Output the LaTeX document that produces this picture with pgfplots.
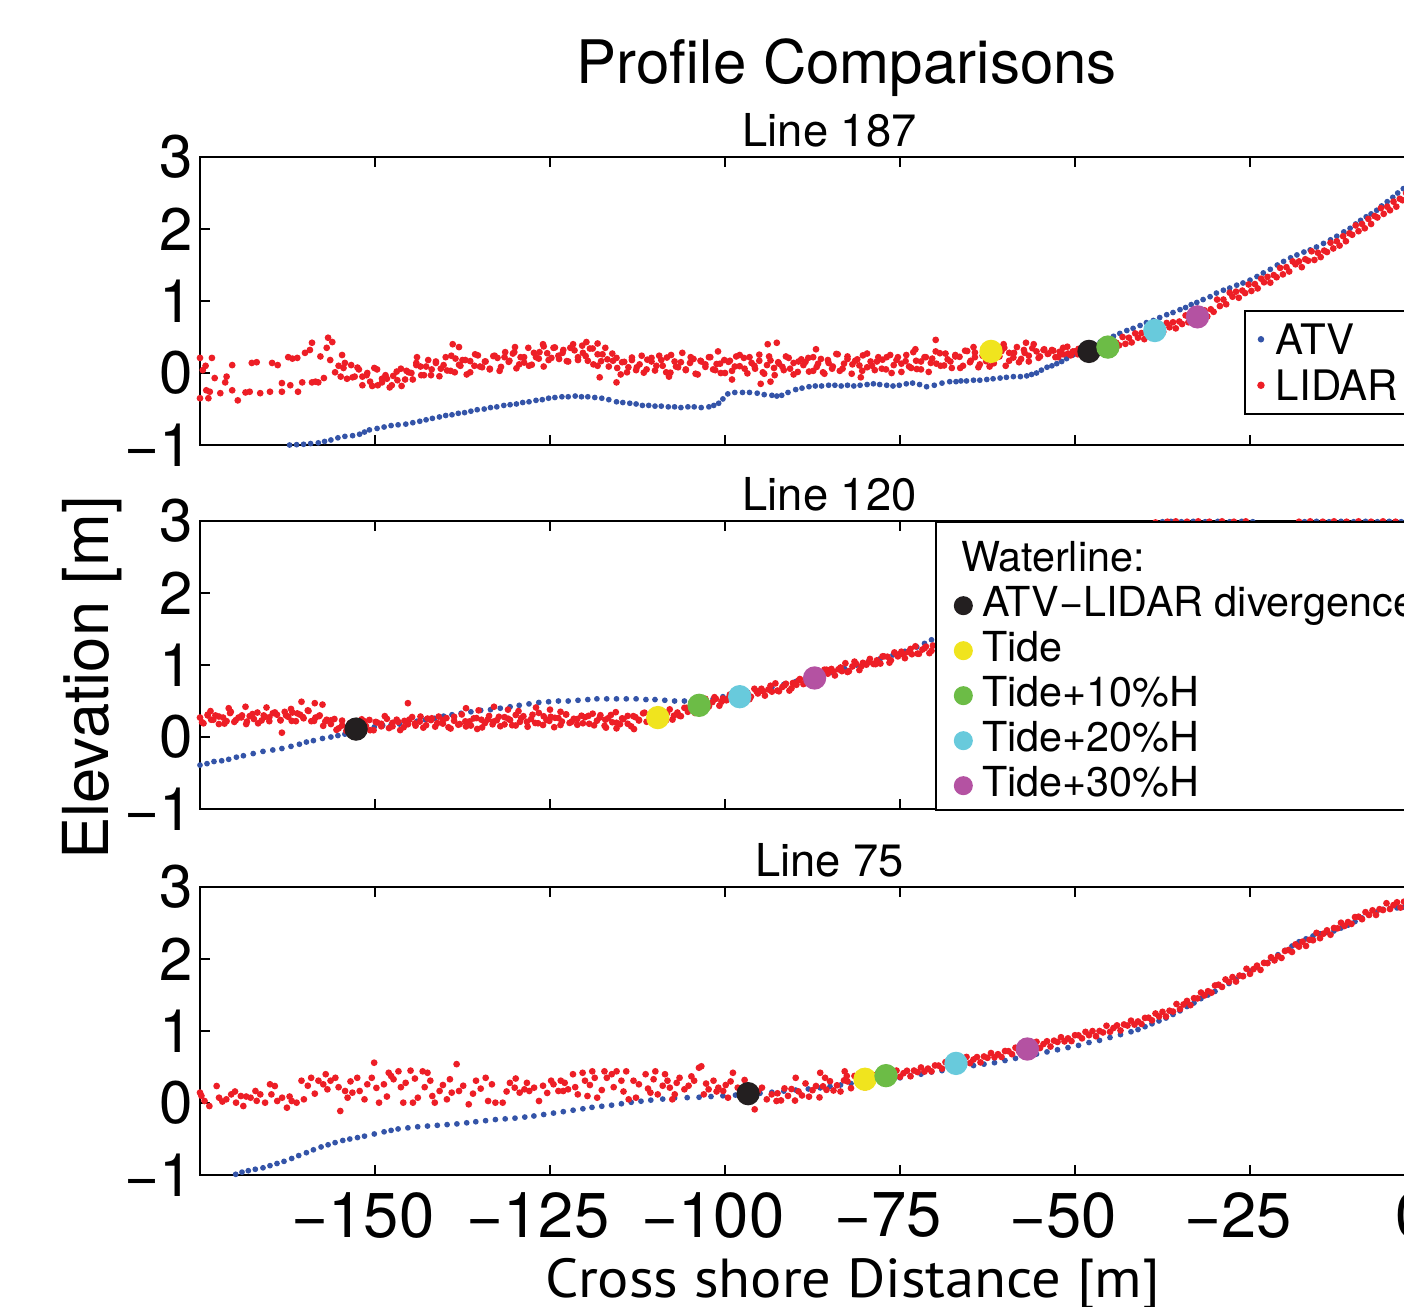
\documentclass[border=0pt]{standalone}
\usepackage{fontspec}
\setmainfont{TeX Gyre Heros}
\newfontfamily\xlabfont{PT Sans}
\usepackage{pgfplots}
\pgfplotsset{compat=1.18}
\definecolor{atvblue}{RGB}{52,84,168}
\definecolor{lidred}{RGB}{237,30,38}
\definecolor{wlblack}{RGB}{35,31,32}
\definecolor{wlyellow}{RGB}{240,228,30}
\definecolor{wlgreen}{RGB}{108,188,70}
\definecolor{wlcyan}{RGB}{104,202,220}
\definecolor{wlmag}{RGB}{180,82,162}
\pgfplotsset{
 every axis title shift=0pt,
 panel/.style={scale only axis, width=367.5pt, height=86.4pt,
  xmin=-175, xmax=0, ymin=-1, ymax=3,
  xtick={-150,-125,-100,-75,-50,-25,0}, ytick={-1,0,1,2,3}, yticklabels={−1,0,1,2,3},
  tick align=inside, major tick length=3pt, tick pos=both,
  axis line style={line width=0.8pt, black}, every tick/.append style={line width=0.8pt, black},
  tick label style={font=\fontsize{18}{18}\selectfont, inner sep=0pt},
  yticklabel style={xshift=-1.8pt},
  xticklabel style={yshift=-5pt, xshift=-3.6pt, font=\fontsize{19}{19}\selectfont},
  title style={font=\fontsize{13.6}{13.6}\selectfont, at={(axis description cs:0.514,1.038)}, anchor=base, inner sep=0pt},
  legend cell align=left},
 atv/.style={only marks, mark=*, mark size=0.65pt, color=atvblue,
  legend image code/.code={\path[draw=none,fill=none] (0pt,0pt) rectangle (3.5pt,1pt); \draw[##1] plot coordinates {(2pt,4.5pt)};}},
 lid/.style={only marks, mark=*, mark size=0.8pt, color=lidred,
  legend image code/.code={\path[draw=none,fill=none] (0pt,0pt) rectangle (3.5pt,1pt); \draw[##1] plot coordinates {(2pt,4.5pt)};}},
 wl/.style={only marks, mark=*, mark size=3.3pt, color=#1,
  legend image code/.code={\path[draw=none,fill=none] (0pt,0pt) rectangle (7pt,1pt); \draw[##1,mark size=2.55pt] plot coordinates {(2.6pt,3.3pt)};}},
}
\begin{document}
\begin{tikzpicture}
\useasboundingbox (0,0) rectangle (421.2pt,-391.8pt);
\node[anchor=base, inner sep=0pt, font=\fontsize{18}{18}\selectfont] at (254pt,-25pt) {Profile Comparisons};
% ---------------- Panel 1 ----------------
\begin{axis}[panel, at={(60pt,-133.5pt)}, anchor=south west, title={Line 187}, xticklabel=\empty,
  legend style={at={(axis description cs:0.8525,0.469)}, anchor=north west, draw=black, line width=0.6pt, fill=white,
   inner xsep=2.7pt, inner ysep=1.7pt, column sep=3pt, row sep=0pt, font=\fontsize{12.6}{12.6}\selectfont,
   cells={anchor=base west}, nodes={inner sep=0pt, text height=11.3pt, text depth=2.5pt}}]
\addplot[atv] coordinates {
(-162.2,-1.00) (-161.2,-0.995) (-160.2,-0.99) (-159.2,-0.98) (-158.1,-0.97) (-157.2,-0.95) (-156.3,-0.93) (-155.3,-0.90) (-154.3,-0.88) (-153.2,-0.87) (-152.2,-0.85) (-151.5,-0.82) (-150.8,-0.79) (-149.7,-0.77) (-148.7,-0.75) (-147.7,-0.73) (-146.7,-0.72) (-145.6,-0.71) (-144.6,-0.69) (-143.6,-0.67) (-142.7,-0.65) (-141.8,-0.63) (-140.8,-0.61) (-139.9,-0.59) (-139.0,-0.58) (-138.1,-0.56) (-137.2,-0.55) (-136.3,-0.53) (-135.4,-0.51) (-134.4,-0.50) (-133.5,-0.48) (-132.6,-0.47) (-131.6,-0.45) (-130.7,-0.44) (-129.8,-0.43) (-128.9,-0.41) (-128.0,-0.40) (-127.0,-0.38) (-126.1,-0.37) (-125.2,-0.35) (-124.3,-0.34) (-123.3,-0.33) (-122.4,-0.33) (-121.4,-0.32) (-120.5,-0.33) (-119.6,-0.33) (-118.6,-0.34) (-117.6,-0.35) (-116.6,-0.37) (-115.5,-0.40) (-114.6,-0.41) (-113.6,-0.42) (-112.7,-0.43) (-111.8,-0.45) (-110.9,-0.45) (-110.0,-0.46) (-109.1,-0.46) (-108.1,-0.47) (-107.2,-0.47) (-106.3,-0.48) (-105.3,-0.47) (-104.4,-0.47) (-103.4,-0.48) (-102.3,-0.47) (-101.6,-0.45) (-100.9,-0.42) (-100.3,-0.36) (-99.6,-0.29) (-98.6,-0.27) (-97.5,-0.27) (-96.5,-0.27) (-95.4,-0.28) (-94.4,-0.30) (-93.3,-0.31) (-92.6,-0.32) (-91.9,-0.31) (-91.0,-0.27) (-89.9,-0.23) (-89.0,-0.21) (-88.0,-0.19) (-87.1,-0.18) (-86.2,-0.18) (-85.2,-0.17) (-84.3,-0.17) (-83.4,-0.18) (-82.5,-0.17) (-81.6,-0.18) (-80.7,-0.17) (-79.7,-0.16) (-78.8,-0.15) (-77.9,-0.16) (-76.9,-0.17) (-76.0,-0.18) (-75.1,-0.17) (-74.1,-0.15) (-73.2,-0.14) (-72.2,-0.16) (-71.2,-0.19) (-70.1,-0.17) (-69.0,-0.14) (-67.9,-0.12) (-67.0,-0.12) (-66.3,-0.11) (-65.5,-0.11) (-64.5,-0.10) (-63.6,-0.10) (-62.6,-0.09) (-61.7,-0.08) (-60.7,-0.07) (-59.8,-0.06) (-58.8,-0.05) (-57.8,-0.05) (-56.9,-0.04) (-56.2,-0.02) (-55.5,0.0) (-54.8,0.04) (-54.0,0.08) (-53.3,0.10) (-52.6,0.13) (-51.9,0.16) (-51.2,0.20) (-50.3,0.25) (-49.3,0.30) (-48.4,0.34) (-47.4,0.38) (-46.4,0.43) (-45.5,0.47) (-44.5,0.51) (-43.6,0.55) (-42.6,0.59) (-41.7,0.62) (-40.7,0.66) (-39.8,0.70) (-38.8,0.73) (-37.9,0.77) (-36.9,0.81) (-36.0,0.84) (-35.0,0.88) (-34.2,0.91) (-33.4,0.95) (-32.6,0.98) (-31.7,1.02) (-30.7,1.06) (-29.8,1.11) (-28.8,1.15) (-27.9,1.18) (-26.9,1.22) (-26.0,1.25) (-25.0,1.29) (-24.0,1.34) (-23.1,1.39) (-22.1,1.44) (-21.1,1.50) (-20.2,1.55) (-19.2,1.60) (-18.3,1.64) (-17.3,1.68) (-16.4,1.71) (-15.5,1.75) (-14.5,1.80) (-13.5,1.85) (-12.6,1.90) (-11.6,1.96) (-10.7,2.01) (-9.9,2.07) (-9.2,2.12) (-8.4,2.17) (-7.7,2.21) (-6.9,2.26) (-6.2,2.32) (-5.4,2.38) (-4.6,2.44) (-3.9,2.50) (-3.1,2.56) (-2.3,2.63) (-1.5,2.70) (-0.8,2.77) (0,2.84)
};
\addlegendentry{ATV}
\addplot[lid] coordinates {
(-175,0.21) (-174.6,0.04) (-175,-0.35) (-173.8,-0.35) (-173.3,0.21) (-172.9,-0.07) (-174.1,-0.24) (-172.1,-0.28) (-171.4,-0.13) (-170.4,0.11) (-170.4,-0.24) (-169.6,-0.38) (-167.6,0.14) (-167.9,-0.26) (-166.4,-0.28) (-164.7,0.14) (-165,-0.26) (-163.9,0.11) (-163.3,-0.26) (-163.3,-0.14) (-162.4,0.22) (-162.1,-0.17) (-161.1,0.21) (-161,-0.26) (-160.4,-0.13) (-160,0.28) (-159.3,0.32) (-159,0.42) (-159,-0.13) (-158.1,-0.13) (-157.3,-0.07) (-156.9,0.35) (-156.7,0.49) (-156.1,0.43) (-156.4,0.18) (-155.7,0.01) (-154.7,0.25) (-154.3,0.14) (-174.2,0.1) (-168.5,-0.27) (-166.9,0.15) (-161.8,0.2) (-158.5,-0.12) (-157.8,0.23) (-155.2,0.1) (-154.9,-0.05) (-173.6,-0.26) (-171.2,-0.05)
(-154.5,0.07) (-154.0,-0.08) (-153.4,0.11) (-152.9,-0.05) (-152.3,0.05) (-151.8,-0.17) (-151.2,-0.03) (-150.7,-0.12) (-150.1,0.07) (-149.6,-0.17) (-149.0,-0.08) (-148.5,-0.03) (-147.9,-0.2) (-147.4,-0.04) (-146.8,-0.1) (-146.3,0.06) (-145.7,-0.09) (-145.2,0.01) (-144.6,-0.09) (-144.1,0.11) (-143.5,0.09) (-143.0,-0.03) (-142.4,0.18) (-141.9,0.05) (-141.3,0.16) (-140.8,-0.045) (-140.2,0.11) (-139.7,0.035) (-139.1,0.24) (-138.6,0.01) (-138.0,0.115) (-137.5,0.18) (-136.9,-0.02) (-136.4,0.165) (-135.8,0.1) (-135.3,0.245) (-134.7,0.08) (-134.2,0.16) (-133.6,0.05) (-133.1,0.235)
(-132.5,0.21) (-132.0,0.085) (-131.4,0.29) (-130.9,0.155) (-130.3,0.27) (-129.8,0.065) (-129.2,0.22) (-128.7,0.145) (-128.1,0.35) (-127.6,0.115) (-127.0,0.22) (-126.5,0.29) (-125.9,0.09) (-125.4,0.275) (-124.8,0.21) (-124.3,0.355) (-123.7,0.195) (-123.2,0.28) (-122.6,0.165) (-122.1,0.35)
(-121.5,0.315) (-121.0,0.18) (-120.4,0.38) (-119.9,0.235) (-119.3,0.34) (-118.8,0.12) (-118.2,0.26) (-117.7,0.165) (-117.1,0.35) (-116.6,0.09) (-116.0,0.17) (-115.5,0.21) (-114.9,-0.02) (-114.4,0.155) (-113.8,0.08) (-113.3,0.215) (-112.7,0.04) (-112.2,0.12) (-111.6,0.005) (-111.1,0.185)
(-110.5,0.16) (-110.0,0.035) (-109.4,0.24) (-108.9,0.1) (-108.3,0.215) (-107.8,0.005) (-107.2,0.16) (-106.7,0.08) (-106.1,0.28) (-105.6,0.04) (-105.0,0.14) (-104.5,0.195) (-103.9,-0.02) (-103.4,0.16) (-102.8,0.085) (-102.3,0.22) (-101.7,0.05) (-101.2,0.125) (-100.6,0.0) (-100.1,0.18)
(-99.5,0.155) (-99.0,0.03) (-98.4,0.23) (-97.9,0.095) (-97.3,0.21) (-96.8,-0.005) (-96.2,0.14) (-95.7,0.06) (-95.1,0.255) (-94.6,0.01) (-94.0,0.11) (-93.5,0.175) (-92.9,-0.03) (-92.4,0.15) (-91.8,0.085) (-91.3,0.23) (-90.7,0.06) (-90.2,0.14) (-89.6,0.015) (-89.1,0.19)
(-88.5,0.155) (-88.0,0.02) (-87.4,0.22) (-86.9,0.085) (-86.3,0.195) (-85.8,-0.01) (-85.2,0.14) (-84.7,0.06) (-84.1,0.265) (-83.6,0.03) (-83.0,0.13) (-82.5,0.195) (-81.9,-0.01) (-81.4,0.17) (-80.8,0.105) (-80.3,0.245) (-79.7,0.08) (-79.2,0.16) (-78.6,0.04) (-78.1,0.22)
(-77.5,0.185) (-77.0,0.05) (-76.4,0.25) (-75.9,0.11) (-75.3,0.22) (-74.8,0.015) (-74.2,0.165) (-73.7,0.09) (-73.1,0.29) (-72.6,0.055) (-72.0,0.16) (-71.5,0.22) (-70.9,0.015) (-70.4,0.2) (-69.8,0.13) (-69.3,0.275) (-68.7,0.105) (-68.2,0.19) (-67.6,0.07) (-67.1,0.25)
(-66.5,0.225) (-66.0,0.1) (-65.4,0.305) (-64.9,0.17) (-64.3,0.285) (-63.8,0.08) (-63.2,0.24) (-62.7,0.165) (-62.1,0.37) (-61.6,0.135) (-61.0,0.24) (-60.5,0.305) (-59.9,0.1) (-59.4,0.28) (-58.8,0.215) (-58.3,0.36) (-57.7,0.195) (-57.2,0.28) (-56.6,0.16) (-56.1,0.345)
(-55.5,0.3) (-55.0,0.23) (-54.4,0.33) (-53.9,0.265) (-53.3,0.32) (-52.8,0.22) (-52.2,0.295) (-51.7,0.26) (-51.1,0.365) (-50.6,0.245) (-50.0,0.3) (-49.5,0.335) (-48.9,0.23) (-48.4,0.325) (-47.8,0.295) (-47.3,0.365)
(-138.9,0.4) (-138.0,0.36) (-119.8,0.43) (-118.2,0.41) (-93.9,0.4) (-92.6,0.42) (-69.9,0.46) (-72.8,0.33) (-117.9,-0.06) (-115.5,-0.13) (-94.9,-0.15) (-80.6,-0.06) (-93.5,-0.12) (-108,-0.05) (-64.5,0.36) (-60.2,0.4) (-57,0.42) (-87,0.33) (-101,0.3) (-126,0.4) (-130,0.36) (-144,0.22) (-99,-0.09)
(-46.8,0.355) (-46.4,0.285) (-45.9,0.41) (-45.5,0.35) (-45.0,0.41) (-44.6,0.325) (-44.1,0.42) (-43.7,0.385) (-43.2,0.5) (-42.8,0.405) (-42.3,0.49) (-41.9,0.425) (-41.4,0.55) (-41.0,0.49) (-40.5,0.555) (-40.1,0.47) (-39.6,0.57) (-39.2,0.535) (-38.7,0.65) (-38.3,0.55) (-37.8,0.63) (-37.4,0.57) (-36.9,0.695) (-36.5,0.635) (-36.0,0.705) (-35.6,0.62) (-35.1,0.715) (-34.7,0.68) (-34.2,0.8) (-33.8,0.705) (-33.3,0.79) (-32.9,0.73) (-32.4,0.86) (-32.0,0.8) (-31.5,0.87) (-31.1,0.785) (-30.6,0.885) (-30.2,0.85)
(-29.7,1.02) (-29.3,0.93) (-28.8,1.02) (-28.4,0.955) (-27.9,1.115) (-27.5,1.06) (-27.0,1.13) (-26.6,1.045) (-26.1,1.145) (-25.7,1.11) (-25.2,1.23) (-24.8,1.14) (-24.3,1.235) (-23.9,1.175) (-23.4,1.31) (-23.0,1.26) (-22.5,1.335) (-22.1,1.255) (-21.6,1.36) (-21.2,1.33) (-20.7,1.46) (-20.3,1.37) (-19.8,1.47) (-19.4,1.41) (-18.9,1.55) (-18.5,1.51) (-18.0,1.55) (-17.6,1.47) (-17.1,1.58) (-16.7,1.56) (-16.2,1.69) (-15.8,1.57) (-15.3,1.67) (-14.9,1.61) (-14.4,1.7) (-14.0,1.68) (-13.5,1.81) (-13.1,1.73) (-12.6,1.83) (-12.2,1.77) (-11.7,1.9) (-11.3,1.83) (-10.8,1.94) (-10.4,1.92) (-9.9,2.05) (-9.5,1.97) (-9.0,2.07) (-8.6,2.01) (-8.1,2.14) (-7.7,2.07) (-7.2,2.18) (-6.8,2.16) (-6.3,2.29) (-5.9,2.21) (-5.4,2.31) (-5.0,2.26) (-4.5,2.38) (-4.1,2.31) (-3.6,2.42) (-3.2,2.40) (-2.7,2.5) (-2.3,2.45) (-1.8,2.54) (-1.4,2.51) (-0.9,2.6) (-0.5,2.57) (0,2.66)
};
\addlegendentry{LIDAR}
\addplot[lid, forget plot] coordinates {
(-153.2,-0.06) (-152.5,0.075) (-151.8,-0.05) (-151.1,0.0) (-150.4,-0.18) (-149.7,0.05) (-149.0,-0.13) (-148.3,-0.08) (-147.6,-0.17) (-146.9,0.02) (-146.2,-0.18) (-145.5,0.03) (-144.8,0.0) (-144.1,0.14) (-143.4,-0.03) (-142.7,0.09) (-142.0,-0.03) (-141.3,0.14) (-140.6,0.06) (-139.9,0.22) (-139.2,0.03) (-138.5,0.2) (-137.8,0.1) (-137.1,0.18) (-136.4,0.01) (-135.7,0.26) (-135.0,0.09) (-134.3,0.16) (-133.6,0.06) (-132.9,0.24) (-132.2,0.03) (-131.5,0.22) (-130.8,0.17) (-130.1,0.29) (-129.4,0.12) (-128.7,0.22) (-128.0,0.1) (-127.3,0.28) (-126.6,0.2) (-125.9,0.37) (-125.2,0.18) (-124.5,0.35) (-123.8,0.24) (-123.1,0.32) (-122.4,0.16) (-121.7,0.4) (-121.0,0.22) (-120.3,0.28) (-119.6,0.17) (-118.9,0.34) (-118.2,0.1) (-117.5,0.26) (-116.8,0.19) (-116.1,0.27) (-115.4,0.07) (-114.7,0.15) (-114.0,0.01) (-113.3,0.18) (-112.6,0.08) (-111.9,0.24) (-111.2,0.05) (-110.5,0.21) (-109.8,0.1) (-109.1,0.18) (-108.4,0.01) (-107.7,0.25) (-107.0,0.09) (-106.3,0.15) (-105.6,0.05) (-104.9,0.22) (-104.2,-0.01) (-103.5,0.17) (-102.8,0.12) (-102.1,0.22) (-101.4,0.04) (-100.7,0.13) (-100.0,0.0) (-99.3,0.17) (-98.6,0.09) (-97.9,0.25) (-97.2,0.06) (-96.5,0.22) (-95.8,0.1) (-95.1,0.17) (-94.4,-0.01) (-93.7,0.23) (-93.0,0.07) (-92.3,0.13) (-91.6,0.04) (-90.9,0.21) (-90.2,-0.02) (-89.5,0.16) (-88.8,0.11) (-88.1,0.21) (-87.4,0.03) (-86.7,0.13) (-86.0,0.01) (-85.3,0.18) (-84.6,0.09) (-83.9,0.26) (-83.2,0.06) (-82.5,0.23) (-81.8,0.12) (-81.1,0.19) (-80.4,0.03) (-79.7,0.27) (-79.0,0.1) (-78.3,0.16) (-77.6,0.06) (-76.9,0.22) (-76.2,0.0) (-75.5,0.18) (-74.8,0.13) (-74.1,0.25) (-73.4,0.07) (-72.7,0.17) (-72.0,0.05) (-71.3,0.22) (-70.6,0.14) (-69.9,0.3) (-69.2,0.1) (-68.5,0.27) (-67.8,0.16) (-67.1,0.23) (-66.4,0.07) (-65.7,0.31) (-65.0,0.15) (-64.3,0.22) (-63.6,0.12) (-62.9,0.3) (-62.2,0.09) (-61.5,0.28) (-60.8,0.23) (-60.1,0.35) (-59.4,0.17) (-58.7,0.28) (-58.0,0.15) (-57.3,0.32) (-56.6,0.24) (-55.9,0.4) (-55.2,0.21) (-54.5,0.32) (-53.8,0.27) (-53.1,0.31) (-52.4,0.22) (-51.7,0.35) (-51.0,0.27) (-50.3,0.3) (-49.6,0.26) (-48.9,0.35) (-48.2,0.3) (-47.5,0.34)
};
\addplot[wl=wlyellow, forget plot] coordinates {(-62.0,0.30)};
\addplot[wl=wlblack, forget plot] coordinates {(-48.0,0.30)};
\addplot[wl=wlgreen, forget plot] coordinates {(-45.3,0.36)};
\addplot[wl=wlcyan, forget plot] coordinates {(-38.6,0.59)};
\addplot[wl=wlmag, forget plot] coordinates {(-32.5,0.78)};
\end{axis}
% ---------------- Panel 2 ----------------
\begin{axis}[panel, at={(60pt,-242.7pt)}, anchor=south west, title={Line 120}, xticklabel=\empty,
  ylabel={Elevation [m]}, ylabel style={at={(axis description cs:-0.075,0.455)}, anchor=base, inner sep=0pt, font=\fontsize{19}{19}\selectfont},
  legend style={at={(axis description cs:0.6,1)}, anchor=north west, draw=black, line width=0.6pt, fill=white,
   inner xsep=5.6pt, inner ysep=2.7pt, column sep=1.3pt, row sep=0pt, font=\fontsize{12.4}{12.4}\selectfont,
   cells={anchor=base west}, nodes={inner sep=0pt, text height=12.2pt, text depth=1.3pt}}]
\addlegendimage{empty legend}
\addlegendentry{\hspace*{-6.4pt}Waterline:}
\addplot[atv, forget plot] coordinates {
(-175.0,-0.39) (-174.0,-0.37) (-173.0,-0.34) (-171.9,-0.33) (-170.9,-0.31) (-169.8,-0.28) (-168.8,-0.26) (-167.4,-0.23) (-166.0,-0.20) (-164.6,-0.18) (-163.3,-0.16) (-162.0,-0.13) (-160.8,-0.10) (-159.8,-0.07) (-158.8,-0.05) (-157.5,-0.02) (-156.3,0.0) (-155.3,0.02) (-154.3,0.04) (-153.5,0.07) (-152.7,0.10) (-151.4,0.12) (-150.1,0.14) (-148.9,0.16) (-147.7,0.17) (-146.5,0.18) (-145.3,0.20) (-144.0,0.22) (-142.8,0.24) (-141.5,0.26) (-140.2,0.29) (-139.0,0.31) (-137.7,0.33) (-136.3,0.35) (-134.9,0.37) (-133.5,0.38) (-132.1,0.40) (-130.7,0.42) (-129.4,0.44) (-128.0,0.46) (-126.6,0.48) (-125.2,0.49) (-123.8,0.50) (-122.4,0.50) (-121.0,0.51) (-119.6,0.52) (-118.3,0.53) (-116.9,0.53) (-115.5,0.53) (-114.1,0.53) (-112.7,0.53) (-111.3,0.52) (-110.0,0.52) (-108.6,0.51) (-107.2,0.50) (-105.8,0.50) (-104.4,0.50) (-103.0,0.51) (-101.7,0.53) (-100.3,0.56) (-98.5,0.59) (-96.8,0.62) (-95.0,0.65) (-93.3,0.69) (-91.6,0.73) (-89.9,0.77) (-88.1,0.81) (-86.4,0.86) (-84.7,0.90) (-82.9,0.95) (-81.2,1.0) (-79.5,1.05) (-77.8,1.09) (-76.0,1.14) (-74.3,1.19) (-72.6,1.25) (-71.5,1.30) (-70.5,1.35) (-67,1.48) (-64,1.6) (-61,1.75) (-58,1.92) (-55,2.1) (-52,2.3) (-49,2.5) (-46,2.7) (-43,2.85) (-40,2.95) (-37.5,2.99) (-36.3,2.995) (-34.8,2.99) (-33.1,2.995) (-31.4,2.99) (-29.6,2.995) (-27.9,2.99) (-26.2,2.995) (-24.6,2.99) (-17.2,2.99) (-15.5,2.995) (-13.7,2.99) (-12,2.995) (-10.2,2.99) (-8.5,2.995) (-6.8,2.99) (-5.1,2.995) (-3.4,2.99) (-1.7,2.995) (0,2.99)
};
\addplot[lid, forget plot] coordinates {
(-175.0,0.27) (-174.5,0.19) (-173.9,0.31) (-173.4,0.24) (-172.8,0.30) (-172.3,0.18) (-171.7,0.27) (-171.2,0.22) (-170.6,0.35) (-170.1,0.21) (-169.5,0.27) (-169.0,0.30) (-168.4,0.18) (-167.9,0.29) (-167.3,0.25) (-166.8,0.34) (-166.2,0.23) (-165.7,0.28) (-165.1,0.22) (-164.6,0.33) (-164.0,0.31) (-163.5,0.23) (-162.9,0.35) (-162.4,0.28) (-161.8,0.34) (-161.3,0.22) (-160.7,0.31) (-160.2,0.26) (-159.6,0.37) (-159.1,0.22) (-158.5,0.27) (-158.0,0.29) (-157.4,0.155) (-156.9,0.24) (-156.3,0.18) (-155.8,0.25) (-155.2,0.12) (-154.7,0.16) (-154.1,0.085) (-153.6,0.19)
(-168.5,0.42) (-160.5,0.49) (-158.6,0.47) (-157.5,0.45) (-163.3,0.06) (-170.9,0.40) (-165.5,0.41) (-162,0.39) (-173.5,0.36)
(-153.0,0.185) (-152.4,0.10) (-151.9,0.246) (-151.3,0.154) (-150.8,0.237) (-150.2,0.094) (-149.7,0.202) (-149.1,0.148) (-148.6,0.29) (-148.0,0.124) (-147.5,0.197) (-146.9,0.241) (-146.4,0.096) (-145.8,0.224) (-145.3,0.177) (-144.7,0.277) (-144.2,0.158) (-143.6,0.214) (-143.1,0.13) (-142.5,0.256)
(-142.0,0.235) (-141.4,0.144) (-140.9,0.284) (-140.3,0.186) (-139.8,0.263) (-139.2,0.118) (-138.7,0.225) (-138.1,0.171) (-137.6,0.313) (-137.0,0.147) (-136.5,0.217) (-135.9,0.259) (-135.4,0.112) (-134.8,0.24) (-134.3,0.193) (-133.7,0.293) (-133.2,0.176) (-132.6,0.233) (-132.1,0.15) (-131.5,0.276)
(-131.0,0.255) (-130.4,0.164) (-129.9,0.306) (-129.3,0.21) (-128.8,0.289) (-128.2,0.143) (-127.7,0.249) (-127.1,0.194) (-126.6,0.335) (-126.0,0.167) (-125.5,0.237) (-124.9,0.281) (-124.4,0.136) (-123.8,0.263) (-123.3,0.215) (-122.7,0.314) (-122.2,0.196) (-121.6,0.253) (-121.1,0.17) (-120.5,0.296)
(-120.0,0.275) (-119.4,0.184) (-118.9,0.324) (-118.3,0.226) (-117.8,0.303) (-117.2,0.156) (-116.7,0.261) (-116.1,0.205) (-115.6,0.345) (-115.0,0.177) (-114.5,0.249) (-113.9,0.293) (-113.4,0.148) (-112.8,0.276) (-112.3,0.229) (-111.7,0.329) (-111.2,0.212) (-110.6,0.27) (-110.1,0.188) (-109.5,0.326)
(-109.0,0.315) (-108.4,0.234) (-107.9,0.384) (-107.3,0.296)
(-137,0.40) (-135.2,0.37) (-133,0.42) (-131,0.38) (-129.5,0.36) (-127,0.41) (-125,0.38) (-123.5,0.35) (-145.3,0.47) (-117,0.13) (-115.5,0.12) (-113,0.11)
(-106.8,0.34) (-106.3,0.29) (-105.8,0.405) (-105.3,0.35) (-104.8,0.42) (-104.3,0.335) (-103.8,0.44) (-103.3,0.415) (-102.8,0.53) (-102.3,0.425) (-101.8,0.485) (-101.3,0.53) (-100.8,0.435) (-100.3,0.535) (-99.8,0.51) (-99.3,0.59) (-98.8,0.515) (-98.3,0.565) (-97.8,0.515) (-97.3,0.615)
(-96.8,0.61) (-96.3,0.56) (-95.8,0.67) (-95.3,0.605) (-94.8,0.67) (-94.3,0.575) (-93.8,0.66) (-93.3,0.63) (-92.8,0.745) (-92.3,0.635) (-91.8,0.695) (-91.3,0.74) (-90.8,0.645) (-90.3,0.75) (-89.8,0.725) (-89.3,0.805) (-88.8,0.735) (-88.3,0.79) (-87.8,0.75) (-87.3,0.86)
(-86.8,0.87) (-86.3,0.82) (-85.8,0.935) (-85.3,0.88) (-84.8,0.945) (-84.3,0.855) (-83.8,0.94) (-83.3,0.915) (-82.8,1.025) (-82.3,0.915) (-81.8,0.98) (-81.3,1.02) (-80.8,0.93) (-80.3,1.03) (-79.8,1.005) (-79.3,1.085) (-78.8,1.015) (-78.3,1.065) (-77.8,1.02) (-77.3,1.12)
(-76.8,1.115) (-76.3,1.065) (-75.8,1.175) (-75.3,1.12) (-74.8,1.185) (-74.3,1.095) (-73.8,1.18) (-73.3,1.15) (-72.8,1.26) (-72.3,1.155) (-71.8,1.215) (-71.3,1.255) (-70.8,1.165) (-70.3,1.27)
(-68,1.32) (-65,1.45) (-62,1.6) (-59,1.77) (-56,1.95) (-53,2.15) (-50,2.35) (-47,2.55) (-44,2.75) (-41,2.9) (-38.5,2.98)
(-36.8,2.99) (-35.6,2.995) (-34,2.99) (-32.4,2.995) (-30.8,2.99) (-29,2.995) (-27.3,2.99) (-25.6,2.995) (-18,2.99) (-16.4,2.995) (-14.6,2.99) (-13,2.995) (-11.2,2.99) (-9.5,2.995) (-7.7,2.99) (-6,2.995) (-4.2,2.99) (-2.5,2.995) (-0.8,2.99)
};
\addplot[lid, forget plot] coordinates {
(-174.7,0.205) (-173.9,0.30) (-173.1,0.24) (-172.3,0.285) (-171.5,0.186) (-170.7,0.332) (-169.9,0.233) (-169.1,0.272) (-168.3,0.214) (-167.5,0.319) (-166.7,0.19) (-165.9,0.30) (-165.1,0.273) (-164.3,0.342) (-163.5,0.236) (-162.7,0.299) (-161.9,0.224) (-161.1,0.328) (-160.3,0.277) (-159.5,0.362) (-158.7,0.224) (-157.9,0.30) (-157.1,0.216) (-156.3,0.232) (-155.5,0.10) (-154.7,0.228) (-153.9,0.126) (-153.1,0.162) (-152.3,0.109) (-151.5,0.219) (-150.7,0.095) (-149.9,0.21) (-149.1,0.184) (-148.3,0.253) (-147.5,0.148) (-146.7,0.211) (-145.9,0.136) (-145.1,0.242) (-144.3,0.188) (-143.5,0.284) (-142.7,0.164) (-141.9,0.26) (-141.1,0.194) (-140.3,0.236) (-139.5,0.135) (-138.7,0.281) (-137.9,0.18) (-137.1,0.218) (-136.3,0.159) (-135.5,0.263) (-134.7,0.133) (-133.9,0.242) (-133.1,0.214) (-132.3,0.281) (-131.5,0.175) (-130.7,0.237) (-129.9,0.16) (-129.1,0.264) (-128.3,0.211) (-127.5,0.309) (-126.7,0.191) (-125.9,0.288) (-125.1,0.224) (-124.3,0.267) (-123.5,0.167) (-122.7,0.313) (-121.9,0.212) (-121.1,0.25) (-120.3,0.191) (-119.5,0.294) (-118.7,0.162) (-117.9,0.27) (-117.1,0.24) (-116.3,0.306) (-115.5,0.198) (-114.7,0.259) (-113.9,0.184) (-113.1,0.29) (-112.3,0.239) (-111.5,0.338) (-110.7,0.221) (-109.9,0.322) (-109.1,0.272) (-108.3,0.33) (-107.5,0.242)
(-106.5,0.295) (-105.5,0.405) (-104.5,0.385) (-103.5,0.465) (-102.5,0.407) (-101.5,0.553) (-100.5,0.49) (-99.5,0.54) (-98.5,0.51) (-97.5,0.615) (-96.5,0.525) (-95.5,0.635) (-94.5,0.633) (-93.5,0.712) (-92.5,0.645) (-91.5,0.718) (-90.5,0.677) (-89.5,0.785) (-88.5,0.77) (-87.5,0.89) (-86.5,0.825) (-85.5,0.935) (-84.5,0.907) (-83.5,0.965) (-82.5,0.903) (-81.5,1.047) (-80.5,0.985) (-79.5,1.038) (-78.5,1.012) (-77.5,1.12) (-76.5,1.033) (-75.5,1.147) (-74.5,1.145) (-73.5,1.223) (-72.5,1.158) (-71.5,1.235) (-70.5,1.197)
};
\addplot[wl=wlblack] coordinates {(-152.7,0.11)};
\addlegendentry{ATV−LIDAR divergence}
\addplot[wl=wlyellow] coordinates {(-109.6,0.27)};
\addlegendentry{Tide}
\addplot[wl=wlgreen] coordinates {(-103.7,0.44)};
\addlegendentry{Tide+10\%H}
\addplot[wl=wlcyan] coordinates {(-97.9,0.56)};
\addlegendentry{Tide+20\%H}
\addplot[wl=wlmag] coordinates {(-87.2,0.82)};
\addlegendentry{Tide+30\%H}
\end{axis}
% ---------------- Panel 3 ----------------
\begin{axis}[panel, at={(60pt,-352.5pt)}, anchor=south west, title={Line 75},
  xticklabels={−150,−125,−100,−75,−50,−25,0},
  xlabel={\resizebox{184.4pt}{\height}{\xlabfont Cross shore Distance [m]}},
  xlabel style={at={(axis description cs:0.533,-0.4256)}, anchor=base, inner sep=0pt, font=\fontsize{16.5}{16.5}\selectfont}]
\addplot[atv] coordinates {
(-169.9,-0.99) (-169.0,-0.96) (-168.1,-0.94) (-167.1,-0.92) (-166.0,-0.90) (-165.0,-0.87) (-164.0,-0.84) (-163.0,-0.81) (-161.9,-0.77) (-160.9,-0.73) (-159.8,-0.69) (-158.8,-0.65) (-157.7,-0.61) (-156.7,-0.58) (-155.7,-0.55) (-154.6,-0.52) (-153.6,-0.50) (-152.5,-0.48) (-151.5,-0.46) (-150.1,-0.43) (-148.7,-0.40) (-147.7,-0.38) (-146.7,-0.36) (-145.3,-0.345) (-143.9,-0.33) (-142.5,-0.32) (-141.1,-0.31) (-139.7,-0.30) (-138.3,-0.29) (-136.9,-0.275) (-135.6,-0.26) (-134.2,-0.245) (-132.8,-0.23) (-131.4,-0.22) (-130.0,-0.21) (-128.6,-0.195) (-127.3,-0.18) (-125.9,-0.16) (-124.5,-0.14) (-123.1,-0.12) (-121.7,-0.10) (-120.3,-0.08) (-119.0,-0.06) (-117.6,-0.045) (-116.2,-0.03) (-114.8,-0.01) (-113.4,0.01) (-112.0,0.025) (-110.6,0.04) (-108.9,0.055) (-107.2,0.07) (-105.4,0.075) (-103.7,0.08) (-102.0,0.09) (-100.3,0.10) (-98.5,0.11) (-96.8,0.12) (-95.0,0.135) (-93.3,0.15) (-91.6,0.165) (-89.9,0.18) (-88.1,0.195) (-86.4,0.21) (-85,0.23) (-83.5,0.25) (-82,0.27) (-80.5,0.29) (-79,0.30) (-77.5,0.32) (-76,0.34) (-75,0.35) (-73.5,0.38) (-72,0.40) (-70.5,0.43) (-69,0.45) (-67.5,0.48) (-66,0.50) (-64.5,0.52) (-63,0.54) (-61.5,0.56) (-60,0.59) (-58.5,0.62) (-57,0.65) (-55.5,0.68) (-54,0.71) (-52.5,0.74) (-51,0.77) (-49.5,0.80) (-48,0.84) (-46.5,0.87) (-45,0.91) (-43.5,0.95) (-42,0.99) (-41,1.02) (-40,1.06) (-39,1.10) (-38,1.14) (-37,1.18) (-36,1.23) (-35,1.28) (-34,1.34) (-33,1.39) (-32,1.45) (-31,1.50) (-30,1.55) (-29,1.61) (-28,1.66) (-27,1.72) (-26,1.77) (-25,1.83) (-24,1.89) (-23,1.95) (-22,2.01) (-21,2.06) (-20,2.12) (-19,2.18) (-18,2.24) (-17,2.28) (-16,2.32) (-15,2.35) (-14,2.37) (-13,2.39) (-12,2.43) (-11,2.47) (-10,2.52) (-9,2.57) (-8,2.61) (-7,2.65) (-6,2.69) (-5,2.70) (-4,2.71) (-3,2.72) (-2,2.74) (-1,2.76) (0,2.78)
};
\addplot[lid] coordinates {
(-175.0,0.144) (-174.35,0.028) (-173.66,-0.042) (-172.62,0.236) (-172.28,0.074) (-171.24,0.051) (-170.54,0.12) (-169.85,0.005) (-169.16,0.097) (-168.81,-0.042) (-167.77,0.074) (-167.08,0.167) (-166.39,0.12) (-165.7,0.005) (-165.0,0.26) (-164.31,0.236) (-163.97,0.028) (-163.27,0.074) (-162.58,-0.065) (-161.89,0.028) (-161.2,0.005) (-160.5,0.31) (-160.16,0.051) (-159.12,0.35) (-158.08,0.31) (-157.39,0.26) (-157.04,0.40) (-156.35,0.31) (-155.66,0.35) (-154.96,-0.111) (-154.27,0.167) (-153.92,0.074) (-153.23,0.144) (-152.54,0.35) (-152.19,0.167) (-151.5,0.051) (-150.46,0.35) (-150.12,0.56) (-149.42,0.005) (-148.73,0.26) (-148.04,0.42) (-147.69,0.375) (-147.35,0.33) (-146.65,0.44) (-145.96,0.005) (-145.62,0.28) (-144.92,0.45) (-144.58,0.005) (-143.88,0.074) (-143.19,0.44) (-142.5,0.42) (-141.81,0.097) (-141.46,0.005) (-140.77,0.167) (-139.73,0.051) (-139.04,0.144) (-138.34,0.54) (-138.0,0.167) (-136.61,-0.018) (-135.57,0.31) (-134.19,0.35) (-133.84,0.028) (-132.8,0.005) (-131.76,0.005) (-130.73,0.28) (-130.04,0.213) (-129.34,0.144) (-128.65,0.19) (-127.96,0.167) (-127.27,0.213) (-126.57,0.028) (-124.84,0.31) (-124.5,0.26) (-123.8,0.167) (-123.46,0.31) (-123.11,0.167) (-122.42,0.19) (-121.72,0.40) (-121.03,0.12) (-120.34,0.42) (-120.0,0.31) (-119.65,0.097) (-118.96,0.44) (-118.61,0.35) (-118.26,0.074) (-117.22,0.44) (-116.88,0.35) (-116.18,0.40) (-115.49,0.44) (-114.8,0.31) (-114.11,0.44) (-113.76,0.051) (-113.07,0.31) (-112.72,0.074) (-111.34,0.40) (-110.65,0.144) (-109.95,0.44) (-109.61,0.12) (-108.57,0.40) (-108.22,0.31) (-107.88,0.213) (-107.53,0.051) (-107.18,0.12) (-106.49,0.35) (-105.8,0.19) (-104.41,0.31) (-103.72,0.49) (-103.38,0.51) (-103.03,0.12) (-102.34,0.19) (-101.64,0.31) (-100.95,0.213) (-100.26,0.167) (-99.57,0.074) (-98.87,0.42) (-98.18,0.213) (-96.8,0.213) (-96.1,0.12) (-95.76,-0.088) (-94.72,0.213) (-94.03,0.051) (-93.33,0.12) (-92.64,0.028)
(-174.8,0.1) (-171.8,0.02) (-170,0.16) (-168.4,0.09) (-166.9,0.03) (-164.8,0.12) (-162.2,0.09) (-159.6,0.24) (-158.6,0.13) (-156.8,0.19) (-155.2,0.22) (-153.5,0.3) (-151.1,0.26) (-149.8,0.21) (-148.3,0.09) (-146.3,0.22) (-144.3,0.34) (-142.9,0.22) (-142.1,0.31) (-140.3,0.25) (-139.3,0.33) (-137.4,0.24) (-136.0,0.13) (-134.9,0.2) (-133.3,0.26) (-131.2,0.16) (-129.9,0.34) (-128.3,0.28) (-126.0,0.24) (-125.4,0.14) (-122.9,0.28) (-121.4,0.22) (-119.3,0.25) (-117.6,0.18) (-115.9,0.22) (-114.5,0.16) (-112.3,0.26) (-111.0,0.2) (-110.2,0.33) (-108.9,0.24) (-106.9,0.28) (-105.2,0.24) (-104.8,0.37) (-102.7,0.27) (-101.2,0.16) (-99.9,0.25) (-99.2,0.3) (-97.6,0.17) (-97.2,0.32) (-95.3,0.16)
(-92.5,0.135) (-92.0,0.036) (-91.5,0.203) (-91.0,0.099) (-90.5,0.194) (-90.0,0.034) (-89.5,0.161) (-89.0,0.105) (-88.5,0.272) (-88.0,0.088) (-87.5,0.178) (-87.0,0.236) (-86.5,0.078) (-86.0,0.232) (-85.5,0.183) (-85.0,0.303) (-84.5,0.174) (-84.0,0.246) (-83.5,0.16) (-83.0,0.314) (-82.5,0.30) (-82.0,0.206) (-81.5,0.376) (-81.0,0.274) (-80.5,0.372) (-80.0,0.214)
(-89.9,0.35) (-86.4,0.42) (-85.7,0.35) (-82.9,0.44) (-82.6,0.375) (-80.9,0.40)
(-79.5,0.34) (-79.0,0.298) (-78.5,0.388) (-78.0,0.342) (-77.5,0.393) (-77.0,0.317) (-76.5,0.384) (-76.0,0.36) (-75.5,0.45) (-75.0,0.364) (-74.5,0.414) (-74.0,0.448) (-73.5,0.371) (-73.0,0.451) (-72.5,0.43) (-72.0,0.494) (-71.5,0.436) (-71.0,0.478) (-70.5,0.44) (-70.0,0.522)
(-69.5,0.52) (-69.0,0.478) (-68.5,0.568) (-68.0,0.522) (-67.5,0.576) (-67.0,0.502) (-66.5,0.572) (-66.0,0.55) (-65.5,0.64) (-65.0,0.554) (-64.5,0.604) (-64.0,0.638) (-63.5,0.564) (-63.0,0.646) (-62.5,0.628) (-62.0,0.694) (-61.5,0.636) (-61.0,0.678) (-60.5,0.64) (-60.0,0.722)
(-59.5,0.72) (-59.0,0.678) (-58.5,0.768) (-58.0,0.722) (-57.5,0.776) (-57.0,0.702) (-56.5,0.772) (-56.0,0.75) (-55.5,0.85) (-55.0,0.764) (-54.5,0.819) (-54.0,0.858) (-53.5,0.784) (-53.0,0.866) (-52.5,0.848) (-52.0,0.914) (-51.5,0.856) (-51.0,0.898) (-50.5,0.86) (-50.0,0.942)
(-49.5,0.94) (-49.0,0.898) (-48.5,0.988) (-48.0,0.942) (-47.5,0.999) (-47.0,0.927) (-46.5,1.0) (-46.0,0.98) (-45.5,1.073) (-45.0,0.989) (-44.5,1.042) (-44.0,1.078) (-43.5,1.007) (-43.0,1.091) (-42.5,1.076) (-42.0,1.144) (-41.5,1.089) (-41.0,1.133) (-40.5,1.098) (-40.0,1.182)
(-39.5,1.185) (-39.0,1.148) (-38.5,1.243) (-38.0,1.202) (-37.5,1.266) (-37.0,1.202) (-36.5,1.282) (-36.0,1.27) (-35.5,1.375) (-35.0,1.304) (-34.5,1.369) (-34.0,1.418) (-33.5,1.359) (-33.0,1.456) (-32.5,1.453) (-32.0,1.534) (-31.5,1.494) (-31.0,1.553) (-30.5,1.533) (-30.0,1.632)
(-29.5,1.643) (-29.0,1.613) (-28.5,1.716) (-28.0,1.682) (-27.5,1.749) (-27.0,1.687) (-26.5,1.77) (-26.0,1.76) (-25.5,1.865) (-25.0,1.794) (-24.5,1.859) (-24.0,1.908) (-23.5,1.849) (-23.0,1.946) (-22.5,1.943) (-22.0,2.024) (-21.5,1.981) (-21.0,2.038) (-20.5,2.015) (-20.0,2.112)
(-19.5,2.125) (-19.0,2.098) (-18.5,2.203) (-18.0,2.172) (-17.5,2.241) (-17.0,2.182) (-16.5,2.267) (-16.0,2.26) (-15.5,2.363) (-15.0,2.289) (-14.5,2.352) (-14.0,2.398) (-13.5,2.337) (-13.0,2.431) (-12.5,2.426) (-12.0,2.504) (-11.5,2.459) (-11.0,2.513) (-10.5,2.488) (-10.0,2.582)
(-9.5,2.588) (-9.0,2.553) (-8.5,2.651) (-8.0,2.612) (-7.5,2.676) (-7.0,2.612) (-6.5,2.692) (-6.0,2.68) (-5.5,2.775) (-5.0,2.694) (-4.5,2.749) (-4.0,2.788) (-3.5,2.714) (-3.0,2.796) (-2.5,2.778) (-2.0,2.844) (-1.5,2.786) (-1.0,2.828) (-0.5,2.79) (0.0,2.872)
};
\addplot[wl=wlblack] coordinates {(-96.7,0.13)};
\addplot[wl=wlyellow] coordinates {(-80.0,0.33)};
\addplot[wl=wlgreen] coordinates {(-77.0,0.38)};
\addplot[wl=wlcyan] coordinates {(-67.0,0.55)};
\addplot[wl=wlmag] coordinates {(-56.8,0.75)};
\end{axis}
\end{tikzpicture}
\end{document}
